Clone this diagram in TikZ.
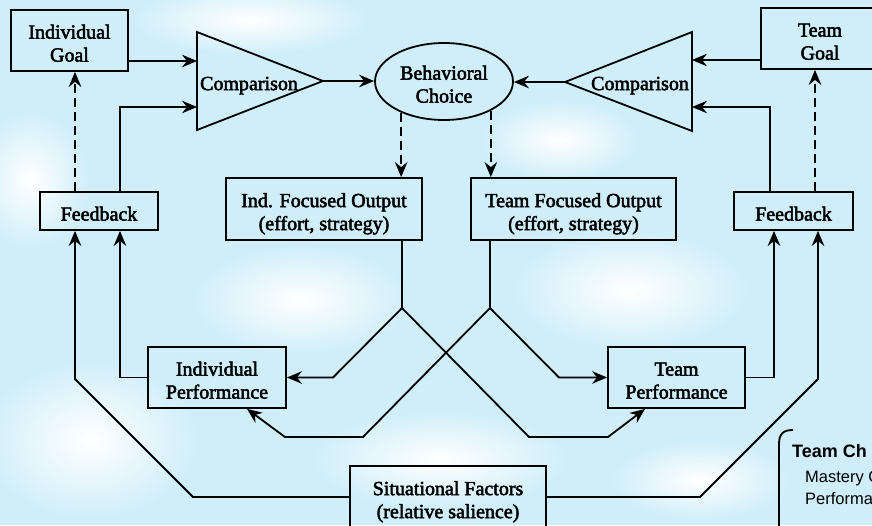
\documentclass[tikz,border=0pt]{standalone}
\usepackage{fontspec}
\setmainfont{Liberation Serif}
\setsansfont{Liberation Sans}
\newfontfamily\heavyserif{Liberation Serif}[FakeBold=2.5]
\usetikzlibrary{arrows.meta,calc,shapes.geometric}
\definecolor{sky}{RGB}{207,238,249}
\newcommand{\bt}[1]{\raisebox{-5pt}[\height][\depth]{\begin{tabular}{@{}c@{}}#1\end{tabular}}}
\begin{document}
\begin{tikzpicture}[x=1pt,y=-1pt,
  lw/.style={line width=1.8pt},
  box/.style={draw, lw, inner sep=2pt,
    font=\heavyserif\fontsize{20}{23}\selectfont},
  lbl/.style={inner sep=0pt, font=\heavyserif\fontsize{20}{23}\selectfont},
  line/.style={lw},
  arr/.style={lw, -{Stealth[length=15pt,width=12.5pt,inset=5pt]}},
  darr/.style={arr, dash pattern=on 9pt off 5pt},
  sfx/.style={inner sep=0pt, anchor=base west},
  cloud/.style={inner color=white, outer color=sky}
]
\useasboundingbox (0,0) rectangle (872,525);
\fill[sky] (0,0) rectangle (872,525);
% soft light patches of the sky background
\shade[cloud] (90,440) ellipse [x radius=110pt, y radius=80pt];
\shade[cloud] (630,290) ellipse [x radius=120pt, y radius=60pt];
\shade[cloud] (300,300) ellipse [x radius=110pt, y radius=55pt];
\shade[cloud] (440,460) ellipse [x radius=130pt, y radius=50pt];
\shade[cloud] (250,20) ellipse [x radius=120pt, y radius=35pt];
\shade[cloud] (30,180) ellipse [x radius=60pt, y radius=70pt];
\shade[cloud] (700,480) ellipse [x radius=90pt, y radius=40pt];
\shade[cloud] (560,140) ellipse [x radius=80pt, y radius=40pt];

% nodes
\node[box, minimum width=117pt, minimum height=61pt] (igoal) at (69.5,40.5) {\bt{Individual\\Goal}};
\node[box, minimum width=118pt, minimum height=61pt] (tgoal) at (820,38.5) {\bt{Team\\Goal}};
\node[box, ellipse, minimum width=138pt, minimum height=77pt, inner sep=0pt] (ell) at (444,81.5) {\bt{Behavioral\\Choice}};
\node[box, minimum width=118pt, minimum height=38pt] (fbL) at (99,211) {\bt{Feedback}};
\node[box, minimum width=119pt, minimum height=38pt] (fbR) at (793.5,211) {\bt{Feedback}};
\node[box, minimum width=196pt, minimum height=62pt] (indOut) at (324,209) {\bt{Ind. Focused Output\\(effort, strategy)}};
\node[box, minimum width=205pt, minimum height=62pt] (teamOut) at (573.5,209) {\bt{Team Focused Output\\(effort, strategy)}};
\node[box, minimum width=138pt, minimum height=61pt] (indPerf) at (217,377.5) {\bt{Individual\\Performance}};
\node[box, minimum width=137pt, minimum height=61pt] (teamPerf) at (676.5,377.5) {\bt{Team\\Performance}};
\node[box, minimum width=196pt, minimum height=62pt] (sit) at (448,497) {\bt{Situational Factors\\(relative salience)}};

% comparison triangles
\coordinate (cL1) at (197,32);
\coordinate (cL2) at (197,130);
\coordinate (cLa) at (323,81);
\coordinate (cR1) at (692,32);
\coordinate (cR2) at (692,131);
\coordinate (cRa) at (565,82);
\draw[lw, line join=miter] (cL1) -- (cLa) -- (cL2) -- cycle;
\draw[lw, line join=miter] (cR1) -- (cRa) -- (cR2) -- cycle;
\node[lbl] (cmpL) at (249,80.5) {\bt{Comparison}};
\node[lbl] (cmpR) at (640,80.5) {\bt{Comparison}};
\coordinate (cLin1) at (197,61);
\coordinate (cLin2) at (197,107);
\coordinate (cRin1) at (692,60);
\coordinate (cRin2) at (692,107);

% helper x positions
\coordinate (xL1) at (75,0);
\coordinate (xL2) at (120,0);
\coordinate (xR1) at (770,0);
\coordinate (xR2) at (815,0);
\coordinate (xR3) at (774,0);
\coordinate (xR4) at (818,0);
\coordinate (jL) at (402,308);
\coordinate (jR) at (490,308);

% top connectors
\draw[arr] (igoal.east |- cLin1) -- (cLin1);
\draw[arr] (cLa) -- (cLa -| ell.west);
\draw[arr] (cRa) -- (cRa -| ell.east);
\draw[arr] (tgoal.west |- cRin1) -- (cRin1);
\draw[darr] (fbL.north -| xL1) -- (igoal.south -| xL1);
\draw[arr] (fbL.north -| xL2) |- (cLin2);
\draw[darr] (fbR.north -| xR2) -- (tgoal.south -| xR2);
\draw[arr] (fbR.north -| xR1) |- (cRin2);
\draw[darr] (ell.216) -- (ell.216 |- indOut.north);
\draw[darr] (ell.-32) -- (ell.-32 |- teamOut.north);

% output to performance
\draw[line] (indOut.south -| jL) -- (jL);
\draw[line] (teamOut.south -| jR) -- (jR);
\draw[arr] (jL) -- (333,377.5) -- (indPerf.east);
\draw[arr] (jL) -- (529,437) -- (608,437) -- ([xshift=-31.5pt]teamPerf.south);
\draw[arr] (jR) -- (559,377.5) -- (teamPerf.west);
\draw[arr] (jR) -- (363,437) -- (285,437) -- ([xshift=30pt]indPerf.south);

% performance / situation to feedback
\draw[arr] (indPerf.west) -| (fbL.south -| xL2);
\draw[arr] (teamPerf.east) -| (fbR.south -| xR3);
\draw[arr] (sit.west) -- (193,497) -- (75,379) -- (fbL.south -| xL1);
\draw[arr] (sit.east) -- (700,497) -- (818,379) -- (fbR.south -| xR4);

% team characteristics panel (cut off at the edge)
\draw[lw] (779,540) -- (779,444) .. controls (779,434) and (783,430) .. (793,430);
\node[sfx, font=\fontsize{18}{18}\selectfont\sffamily\bfseries] (tch) at (792,457) {Team Ch};
\node[sfx, font=\fontsize{16.5}{16.5}\selectfont\sffamily] (tm) at (805,482) {Mastery C};
\node[sfx, font=\fontsize{16.5}{16.5}\selectfont\sffamily] (tp) at (805,504) {Performa};
\end{tikzpicture}
\end{document}
